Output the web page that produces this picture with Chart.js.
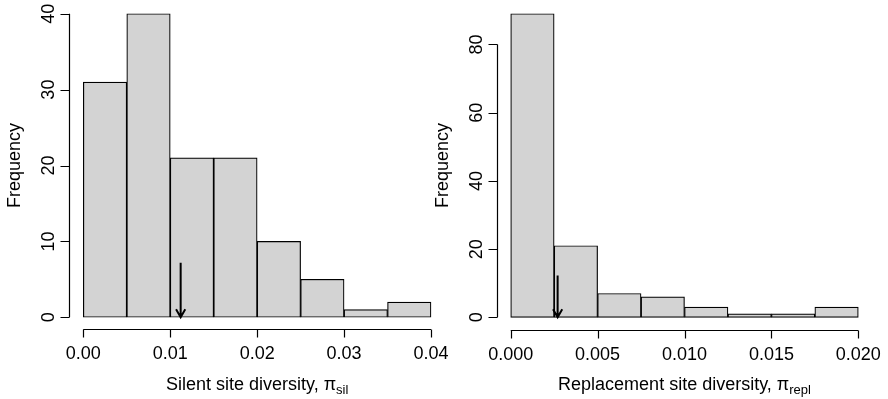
<!DOCTYPE html>
<html lang="en">
<head>
  <meta charset="UTF-8" />
  <title>Silent and replacement site diversity</title>
  <script src="https://cdn.jsdelivr.net/npm/chart.js"></script>
  <style>
    body { margin: 0; background: #fff; }
    #wrap { position: relative; width: 888px; height: 399px; }
    canvas { position: absolute; top: 0; }
    #silentChart { left: 0; }
    #replChart { left: 430px; }
  </style>
</head>
<body>
  <div id="wrap">
    <canvas id="silentChart" width="450" height="399"></canvas>
    <canvas id="replChart" width="458" height="399"></canvas>
  </div>

  <script>
    // left panel: silent site diversity
    const silentEdges = [0, 0.005, 0.01, 0.015, 0.02, 0.025, 0.03, 0.035, 0.04];
    const silentCounts = [31, 40, 21, 21, 10, 5, 1, 2];
    const silentXTicks = [0, 0.01, 0.02, 0.03, 0.04];
    const silentXLabels = ['0.00', '0.01', '0.02', '0.03', '0.04'];
    const silentYTicks = [0, 10, 20, 30, 40];
    const silentArrow = [0.0112, 7.2]; // x, top of arrow

    // right panel: replacement site diversity
    const replEdges = [0, 0.0025, 0.005, 0.0075, 0.01, 0.0125, 0.015, 0.0175, 0.02];
    const replCounts = [89, 21, 7, 6, 3, 1, 1, 3];
    const replXTicks = [0, 0.005, 0.01, 0.015, 0.02];
    const replXLabels = ['0.000', '0.005', '0.010', '0.015', '0.020'];
    const replYTicks = [0, 20, 40, 60, 80];
    const replArrow = [0.0027, 12.3];

    const FONT = '"Liberation Sans", Arial, Helvetica, sans-serif';

    // R-style axes: lines only over the tick range, rotated y labels
    const rAxes = {
      id: 'rAxes',
      afterDraw(chart, args, o) {
        const ctx = chart.ctx;
        const xs = chart.scales.x, ys = chart.scales.y;
        const area = chart.chartArea;
        ctx.save();
        ctx.strokeStyle = '#000';
        ctx.fillStyle = '#000';
        ctx.lineWidth = 1.2;

        // x axis
        const ay = Math.round(area.bottom) + 0.5;
        ctx.beginPath();
        ctx.moveTo(xs.getPixelForValue(o.xTicks[0]), ay);
        ctx.lineTo(xs.getPixelForValue(o.xTicks[o.xTicks.length - 1]), ay);
        o.xTicks.forEach(v => {
          const px = Math.round(xs.getPixelForValue(v)) + 0.5;
          ctx.moveTo(px, ay);
          ctx.lineTo(px, ay + 8);
        });
        ctx.stroke();
        ctx.font = '18px ' + FONT;
        ctx.textAlign = 'center';
        ctx.textBaseline = 'alphabetic';
        o.xTicks.forEach((v, i) => {
          ctx.fillText(o.xLabels[i], xs.getPixelForValue(v), ay + 29.5);
        });

        // y axis
        const ax = Math.round(area.left) + 0.5;
        ctx.beginPath();
        ctx.moveTo(ax, ys.getPixelForValue(o.yTicks[0]));
        ctx.lineTo(ax, ys.getPixelForValue(o.yTicks[o.yTicks.length - 1]));
        o.yTicks.forEach(v => {
          const py = Math.round(ys.getPixelForValue(v)) + 0.5;
          ctx.moveTo(ax, py);
          ctx.lineTo(ax - 9, py);
        });
        ctx.stroke();
        o.yTicks.forEach(v => {
          ctx.save();
          ctx.translate(ax - 16, ys.getPixelForValue(v));
          ctx.rotate(-Math.PI / 2);
          ctx.fillText(String(v), 0, 0);
          ctx.restore();
        });

        // y title
        ctx.save();
        ctx.translate(ax - 49.5, (area.top + area.bottom) / 2);
        ctx.rotate(-Math.PI / 2);
        ctx.fillText('Frequency', 0, 0);
        ctx.restore();

        // x title with subscript
        ctx.textAlign = 'left';
        const main = o.xTitle + 'π';
        const wMain = ctx.measureText(main).width;
        ctx.font = '13px ' + FONT;
        const wSub = ctx.measureText(o.xSub).width;
        let tx = (area.left + area.right) / 2 - (wMain + wSub) / 2;
        ctx.font = '18px ' + FONT;
        ctx.fillText(main, tx, 390);
        ctx.font = '13px ' + FONT;
        ctx.fillText(o.xSub, tx + wMain, 394);

        // arrow marking the mean
        const axp = xs.getPixelForValue(o.arrow[0]);
        const y1 = ys.getPixelForValue(o.arrow[1]);
        const y0 = ys.getPixelForValue(0);
        ctx.lineWidth = 2;
        ctx.beginPath();
        ctx.moveTo(axp, y1);
        ctx.lineTo(axp, y0);
        ctx.moveTo(axp - 4.6, y0 - 8);
        ctx.lineTo(axp, y0);
        ctx.lineTo(axp + 4.6, y0 - 8);
        ctx.stroke();
        ctx.restore();
      }
    };

    function makeHist(id, edges, counts, xTicks, xLabels, yTicks, arrow, xTitle, xSub, pad) {
      const points = counts.map((c, i) => ({ x: (edges[i] + edges[i + 1]) / 2, y: c }));
      const xr = edges[edges.length - 1] - edges[0];
      const ymax = Math.max(...counts);
      return new Chart(document.getElementById(id), {
        type: 'bar',
        data: {
          datasets: [{
            data: points,
            backgroundColor: '#d3d3d3',
            borderColor: '#000',
            borderWidth: 1.2,
            borderSkipped: false,
            barPercentage: 1,
            categoryPercentage: 1
          }]
        },
        options: {
          responsive: false,
          animation: false,
          devicePixelRatio: 1,
          layout: { padding: pad },
          plugins: {
            legend: { display: false },
            tooltip: { enabled: false },
            rAxes: { xTicks, xLabels, yTicks, arrow, xTitle, xSub }
          },
          scales: {
            x: {
              type: 'linear',
              display: false,
              offset: false,
              min: edges[0] - 0.04 * xr,
              max: edges[edges.length - 1] + 0.04 * xr,
              afterBuildTicks: s => { s.ticks = xTicks.map(v => ({ value: v })); }
            },
            y: {
              display: false,
              min: -0.04 * ymax,
              max: ymax * 1.04,
              afterBuildTicks: s => { s.ticks = yTicks.map(v => ({ value: v })); }
            }
          }
        },
        plugins: [rAxes]
      });
    }

    makeHist('silentChart', silentEdges, silentCounts, silentXTicks, silentXLabels, silentYTicks,
      silentArrow, 'Silent site diversity, ', 'sil', { left: 69.4, right: 5.1, top: 1.6, bottom: 69.6 });
    makeHist('replChart', replEdges, replCounts, replXTicks, replXLabels, replYTicks,
      replArrow, 'Replacement site diversity, ', 'repl', { left: 66.8, right: 15.8, top: 1.6, bottom: 69.5 });
  </script>
</body>
</html>
